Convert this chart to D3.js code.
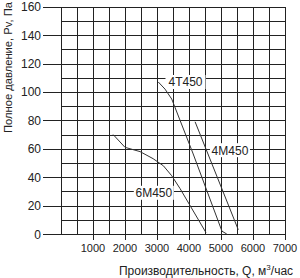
<!DOCTYPE html>
<html lang="ru">
<head>
  <meta charset="UTF-8">
  <title>Fan curves</title>
  <style>
    body{ margin:0; background:#fff; }
    svg{ display:block; font-family:"Liberation Sans", Arial, sans-serif; }
  </style>
</head>
<body>
  <script src="https://cdn.jsdelivr.net/npm/d3@7/dist/d3.min.js"></script>
  <script>
    const w = 300, h = 278;

    // data
    const qTicks = [1000, 2000, 3000, 4000, 5000, 6000, 7000];
    const pTicks = [0, 20, 40, 60, 80, 100, 120, 140, 160];
    const curve4T450 = [[3040, 107], [3250, 102], [3460, 95], [4120, 57], [5030, 2], [5180, 0]];
    const curve4M450 = [[4190, 79], [5540, 3]];
    const curve6M450 = [[1630, 70], [2000, 61], [2470, 58], [2880, 53], [3200, 48], [3460, 41], [3720, 32], [4530, 1]];
    const curveNames = ['4T450', '4M450', '6M450'];
    const labelAt = [[3890, 107], [5280, 59], [2900, 29]];

    const x = d3.scaleLinear().domain([0, 7000]).range([61, 285]);
    const y = d3.scaleLinear().domain([0, 160]).range([234, 6.7]);

    const svg = d3.select('body').append('svg').attr('width', w).attr('height', h);
    const ink = '#222';

    // grid: every 10 Pa and every 500 m3/h
    const grid = svg.append('g').attr('stroke', ink).attr('stroke-width', 1).attr('shape-rendering', 'crispEdges');
    grid.selectAll('.hg').data(d3.range(0, 161, 10)).join('line')
      .attr('x1', d => d % 20 === 0 ? 43 : x(0))
      .attr('x2', x(7000))
      .attr('y1', d => Math.round(y(d)) + 0.5)
      .attr('y2', d => Math.round(y(d)) + 0.5);
    grid.selectAll('.vg').data(d3.range(0, 7001, 500)).join('line')
      .attr('x1', d => Math.round(x(d)) + 0.5)
      .attr('x2', d => Math.round(x(d)) + 0.5)
      .attr('y1', y(160))
      .attr('y2', d => (d > 0 && d % 1000 === 0) ? y(0) + 6 : y(0));

    // tick labels
    svg.append('g').selectAll('text').data(pTicks).join('text')
      .attr('x', 41).attr('y', d => y(d) + 4.5)
      .attr('text-anchor', 'end').attr('font-size', 12).attr('fill', ink)
      .text(d => d);
    svg.append('g').selectAll('text').data(qTicks).join('text')
      .attr('x', d => x(d)).attr('y', 252)
      .attr('text-anchor', 'middle').attr('font-size', 11).attr('fill', ink)
      .text(d => d);

    // axis titles
    svg.append('text')
      .attr('transform', 'translate(12,2) rotate(-90)')
      .attr('text-anchor', 'end')
      .attr('font-size', 11.2).attr('fill', ink)
      .text('Полное давление, Pv, Па');
    const xt = svg.append('text')
      .attr('x', 206).attr('y', 275)
      .attr('text-anchor', 'middle').attr('font-size', 12).attr('fill', ink);
    xt.append('tspan').text('Производительность, Q, м');
    xt.append('tspan').attr('font-size', 8).attr('dy', -5).text('3');
    xt.append('tspan').attr('dy', 5).text('/час');

    // curves
    const line = d3.line().x(d => x(d[0])).y(d => y(d[1]));
    svg.append('g').selectAll('path').data([curve4T450, curve4M450, curve6M450]).join('path')
      .attr('d', line)
      .attr('fill', 'none').attr('stroke', '#333').attr('stroke-width', 1);

    // curve labels on white boxes
    const lab = svg.append('g').selectAll('g').data(curveNames).join('g')
      .attr('transform', (d, i) => `translate(${x(labelAt[i][0])},${y(labelAt[i][1])})`);
    lab.append('rect').attr('x', -20).attr('y', -7).attr('width', 40).attr('height', 14).attr('fill', '#fff');
    lab.append('text').attr('text-anchor', 'middle').attr('y', 4.5)
      .attr('font-size', 12).attr('fill', ink).text(d => d);
  </script>
</body>
</html>
